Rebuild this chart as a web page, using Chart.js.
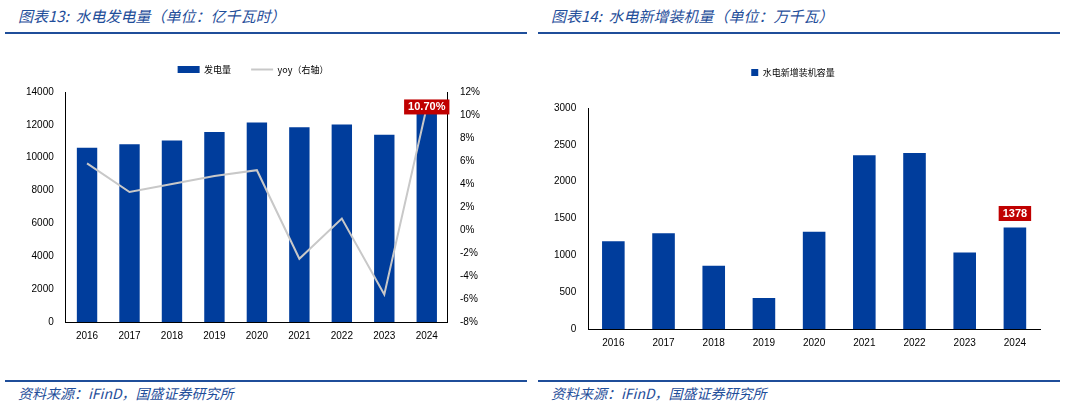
<!DOCTYPE html>
<html><head><meta charset="utf-8">
<script src="https://cdn.jsdelivr.net/npm/chart.js@4/dist/chart.umd.min.js"></script>
<style>
body{margin:0;width:1065px;height:406px;background:#fff;position:relative;font-family:"Noto Sans CJK SC",sans-serif;overflow:hidden}
.t{position:absolute;top:5px;font-size:15px;font-style:italic;color:#1f4e9a}
.ln{position:absolute;height:2px;background:#1f4e9a}
.s{position:absolute;top:383px;font-size:14px;font-style:italic;color:#1f4e9a}
canvas{position:absolute}
</style></head><body>
<div class="t" style="left:18px">图表13:&nbsp; 水电发电量（单位：亿千瓦时）</div>
<div class="t" style="left:551px">图表14:&nbsp; 水电新增装机量（单位：万千瓦）</div>
<div class="ln" style="left:5px;width:522px;top:32px"></div>
<div class="ln" style="left:538px;width:522px;top:32px"></div>
<div class="ln" style="left:5px;width:522px;top:380px"></div>
<div class="ln" style="left:538px;width:522px;top:380px"></div>
<div class="s" style="left:18px">资料来源：iFinD，国盛证券研究所</div>
<div class="s" style="left:551px">资料来源：iFinD，国盛证券研究所</div>
<div style="position:absolute;left:5px;top:40px;width:520px;height:310px"><canvas id="c1"></canvas></div>
<div style="position:absolute;left:538px;top:48px;width:520px;height:309px"><canvas id="c2"></canvas></div>
<script>
const years=['2016','2017','2018','2019','2020','2021','2022','2023','2024'];
const generation=[10600,10820,11050,11560,12140,11850,12020,11400,12700];
const yoy=[5.8,3.3,4.0,4.7,5.2,-2.5,1.0,-5.6,10.7];
const newCapacity=[1190,1300,860,420,1320,2360,2390,1040,1378];
const blue='#003d9c';
Chart.defaults.font.family='"Liberation Sans",Arial,sans-serif';
Chart.defaults.font.size=10;
Chart.defaults.color='#000';
Chart.defaults.animation=false;
function legendGap(n){return{id:'lg',beforeInit(c){const f=c.legend.fit;c.legend.fit=function(){f.bind(c.legend)();this.height+=n;};}}}
function tagPlugin(dsIndex,scaleId,text){return{id:'tag'+scaleId,afterDatasetsDraw(c){
 const m=c.getDatasetMeta(dsIndex);const p=m.data[m.data.length-1];
 const ctx=c.ctx;ctx.save();ctx.font='bold 11px "Liberation Sans",Arial';
 const w=ctx.measureText(text).width+8,h=15;const x=p.x,y=(scaleId==='y1'?p.y:p.y-14);
 ctx.fillStyle='#c00000';ctx.fillRect(x-w/2,y-h/2,w,h);ctx.fillStyle='#fff';ctx.textAlign='center';ctx.textBaseline='middle';ctx.fillText(text,x,y+0.5);ctx.restore();}}}
const axisX={grid:{display:false,drawTicks:false},border:{color:'#000'},ticks:{padding:8}};
const nf=v=>String(v);
new Chart(document.getElementById('c1'),{data:{labels:years,datasets:[
 {type:'line',label:'yoy（右轴）',data:yoy,yAxisID:'y1',borderColor:'#c8c8c8',backgroundColor:'#c8c8c8',borderWidth:2,pointRadius:0,pointStyle:'line',order:0},
 {type:'bar',label:'发电量',data:generation,yAxisID:'y',backgroundColor:blue,barPercentage:0.48,categoryPercentage:1,order:1,pointStyle:'rect'}]},
 options:{responsive:true,maintainAspectRatio:false,layout:{padding:{left:13,right:37,top:5,bottom:0}},
 plugins:{legend:{reverse:true,labels:{boxWidth:22,boxHeight:7,padding:20,usePointStyle:true,pointStyleWidth:22,font:{size:9,family:'"Noto Sans CJK SC"'},
  generateLabels(c){const l=Chart.defaults.plugins.legend.labels.generateLabels(c);l.forEach(i=>{if(i.datasetIndex===0){i.pointStyle='line';i.lineWidth=2;i.strokeStyle='#c8c8c8';}else{i.pointStyle='rect';i.lineWidth=0;}});return l;}}},tooltip:{enabled:false}},
 scales:{x:axisX,
 y:{min:0,max:14000,ticks:{stepSize:2000,padding:8,callback:nf},grid:{display:false,tickLength:4},border:{color:'#000'}},
 y1:{position:'right',min:-8,max:12,ticks:{stepSize:2,padding:8,callback:v=>v+'%'},grid:{display:false,tickLength:4},border:{color:'#000'}}}},
 plugins:[legendGap(8),tagPlugin(0,'y1','10.70%')]});
new Chart(document.getElementById('c2'),{type:'bar',data:{labels:years,datasets:[
 {label:'水电新增装机容量',data:newCapacity,backgroundColor:blue,barPercentage:0.45,categoryPercentage:1}]},
 options:{responsive:true,maintainAspectRatio:false,layout:{padding:{left:8,right:18,top:0,bottom:0}},
 plugins:{legend:{labels:{boxWidth:7,boxHeight:7,padding:20,font:{size:9,family:'"Noto Sans CJK SC"'}}},tooltip:{enabled:false}},
 scales:{x:axisX,y:{min:0,max:3000,ticks:{stepSize:500,padding:8,callback:nf},grid:{display:false,tickLength:4},border:{color:'#000'}}}},
 plugins:[legendGap(21),tagPlugin(0,'y','1378')]});
</script></body></html>
